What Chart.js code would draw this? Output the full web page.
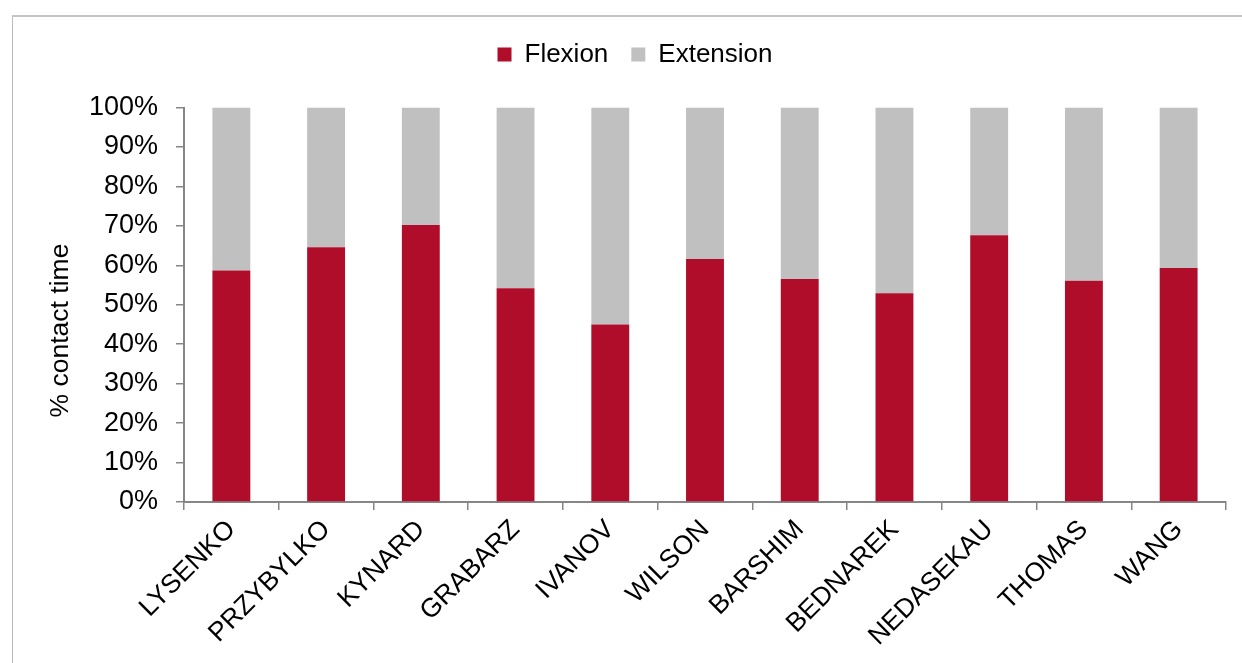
<!DOCTYPE html>
<html>
<head>
<meta charset="utf-8">
<script src="https://cdn.jsdelivr.net/npm/chart.js@4/dist/chart.umd.min.js"></script>
<style>
  html, body { margin: 0; padding: 0; background: #ffffff; }
  #wrap { position: relative; width: 1242px; height: 663px; overflow: hidden; }
  #frame { position: absolute; left: 12px; top: 15px; width: 1300px; height: 800px;
           border-left: 1px solid #bcbcbc; border-top: 2px solid #c4c4c4; box-sizing: border-box; }
  #chart { position: absolute; left: 0; top: 0; }
</style>
</head>
<body>
<div id="wrap">
  <div id="frame"></div>
  <canvas id="chart" width="1242" height="663"></canvas>
</div>
<script>
// Share of ground contact time spent in knee flexion vs extension, per athlete
const athletes = ['LYSENKO', 'PRZYBYLKO', 'KYNARD', 'GRABARZ', 'IVANOV', 'WILSON',
                  'BARSHIM', 'BEDNAREK', 'NEDASEKAU', 'THOMAS', 'WANG'];
const flexion   = [58.7, 64.6, 70.2, 54.2, 45.0, 61.6, 56.5, 52.9, 67.6, 56.1, 59.3];
const extension = [41.3, 35.4, 29.8, 45.8, 55.0, 38.4, 43.5, 47.1, 32.4, 43.9, 40.7];
const seriesNames = ['Flexion', 'Extension'];
const yTicks = [0, 10, 20, 30, 40, 50, 60, 70, 80, 90, 100];

const RED = '#B00D2A';
const GREY = '#C0C0C0';
const AXIS = '#868686';
const FONT = "'Liberation Sans', Arial, sans-serif";

// Gives the legend extra room below its row and nudges it right
const legendSpacing = {
  id: 'legendSpacing',
  beforeLayout(chart) {
    const lg = chart.legend;
    if (lg && !lg._spaced) {
      const fit = lg.fit;
      lg.fit = function () { fit.call(this); this.height += 30; };
      lg._spaced = true;
    }
  },
  afterLayout(chart) {
    const lg = chart.legend;
    if (lg) { lg.left += 22; lg.right += 22; }
  }
};

new Chart(document.getElementById('chart'), {
  type: 'bar',
  data: {
    labels: athletes,
    datasets: [
      { label: seriesNames[0], data: flexion, backgroundColor: RED,
        categoryPercentage: 1, barPercentage: 0.4 },
      { label: seriesNames[1], data: extension, backgroundColor: GREY,
        categoryPercentage: 1, barPercentage: 0.4 }
    ]
  },
  options: {
    responsive: false,
    animation: false,
    layout: { padding: { left: 0, right: 16, top: 18.5, bottom: 0 } },
    plugins: {
      legend: {
        position: 'top',
        labels: {
          color: '#000',
          font: { family: FONT, size: 26 },
          boxWidth: 14, boxHeight: 14, padding: 23
        }
      },
      tooltip: { enabled: false }
    },
    scales: {
      x: {
        stacked: true,
        grid: { display: true, drawOnChartArea: false, offset: true,
                color: AXIS, tickLength: 8, lineWidth: 1.5 },
        border: { color: AXIS, width: 2 },
        ticks: { color: '#000', font: { family: FONT, size: 26.5 },
                 minRotation: 45, maxRotation: 45, padding: 4, autoSkip: false },
        afterFit(scale) { scale.height = 161; }
      },
      y: {
        stacked: true,
        min: 0, max: 100,
        afterBuildTicks(scale) { scale.ticks = yTicks.map(v => ({ value: v })); },
        grid: { display: true, drawOnChartArea: false, color: AXIS, tickLength: 8, lineWidth: 1.5 },
        border: { color: AXIS, width: 2 },
        ticks: { color: '#000', font: { family: FONT, size: 27 }, padding: 18,
                 callback: v => v + '%' },
        title: { display: true, text: '% contact time       ', color: '#000',
                 font: { family: FONT, size: 26.5 }, padding: { top: 45, bottom: 0 } },
        afterFit(scale) { scale.width = 184; }
      }
    }
  },
  plugins: [legendSpacing]
});
</script>
</body>
</html>
